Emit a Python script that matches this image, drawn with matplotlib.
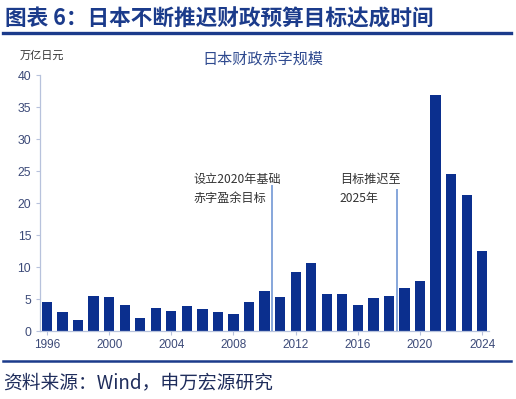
import matplotlib
matplotlib.use("Agg")
import matplotlib.pyplot as plt
from matplotlib.lines import Line2D

# 日本财政赤字规模（万亿日元）
years = list(range(1996, 2025))
deficit = [4.6, 3.0, 1.7, 5.4, 5.3, 4.1, 2.0, 3.6, 3.2, 3.9, 3.4, 3.0, 2.7, 4.5,
           6.2, 5.3, 9.2, 10.7, 5.8, 5.8, 4.0, 5.2, 5.4, 6.7, 7.8,
           36.9, 24.6, 21.2, 12.5]
xticks = [1996, 2000, 2004, 2008, 2012, 2016, 2020, 2024]
yticks = [0, 5, 10, 15, 20, 25, 30, 35, 40]

# 两个时间节点的注释
marks = [2010.5, 2018.5]
mark_tops = [22.6, 22.0]
mark_texts = ["设立2020年基础\n赤字盈余目标", "目标推迟至\n2025年"]
mark_text_x = [2005.4, 2014.85]

CJK = ["Noto Sans CJK SC", "DejaVu Sans"]
NUM = ["Liberation Sans", "Noto Sans CJK SC"]
BAR = "#0b2f8e"
NAVY = "#1b3b8b"
AXIS = "#b7c2dc"
TICK = "#3c4a78"

plt.rcParams["font.family"] = CJK

fig = plt.figure(figsize=(5.16, 3.99), dpi=100)
ax = fig.add_axes([0.0766, 0.1704, 0.8714, 0.6416])

ax.bar(years, deficit, width=0.66, color=BAR, zorder=2)

for x, top in zip(marks, mark_tops):
    ax.plot([x, x], [0, top], color="#86a6da", lw=1.4, zorder=3)
for x, txt in zip(mark_text_x, mark_texts):
    ax.text(x, 24.7, txt, fontsize=8.7, color="#333333", va="top", ha="left",
            linespacing=1.65, family=CJK)

ax.set_xlim(1995.52, 2024.45)
ax.set_ylim(0, 40)
ax.set_xticks(xticks)
ax.set_yticks(yticks)
ax.set_xticklabels([str(t) for t in xticks], family=NUM, fontsize=8.5, color=TICK)
ax.set_yticklabels([str(t) for t in yticks], family=NUM, fontsize=8.8, color=TICK)
ax.tick_params(axis="both", colors=AXIS, length=3, width=0.8, pad=3)
for lab in ax.get_xticklabels() + ax.get_yticklabels():
    lab.set_color(TICK)
for side in ["top", "right"]:
    ax.spines[side].set_visible(False)
for side in ["left", "bottom"]:
    ax.spines[side].set_color(AXIS)
    ax.spines[side].set_linewidth(0.9)

# 标题和单位
fig.text(5 / 516, 1 - 19 / 399, "图表 6：日本不断推迟财政预算目标达成时间",
         fontsize=15.6, fontweight="bold", color=NAVY, va="center", ha="left")
fig.add_artist(Line2D([3 / 516, 511 / 516], [1 - 33 / 399] * 2,
                      color=NAVY, lw=2.4, transform=fig.transFigure))
fig.text(20 / 516, 1 - 56 / 399, "万亿日元", fontsize=8, color="#333333",
         va="center", ha="left")
fig.text(263 / 516, 1 - 59 / 399, "日本财政赤字规模", fontsize=10.9,
         color="#2f4a8f", va="center", ha="center")

# 资料来源
fig.add_artist(Line2D([3 / 516, 511 / 516], [1 - 361 / 399] * 2,
                      color=NAVY, lw=1.8, transform=fig.transFigure))
fig.text(3 / 516, 1 - 383 / 399, "资料来源：Wind，申万宏源研究", fontsize=13.5,
         color="#1f2d5c", va="center", ha="left")

fig.savefig("out.png", dpi=100)
